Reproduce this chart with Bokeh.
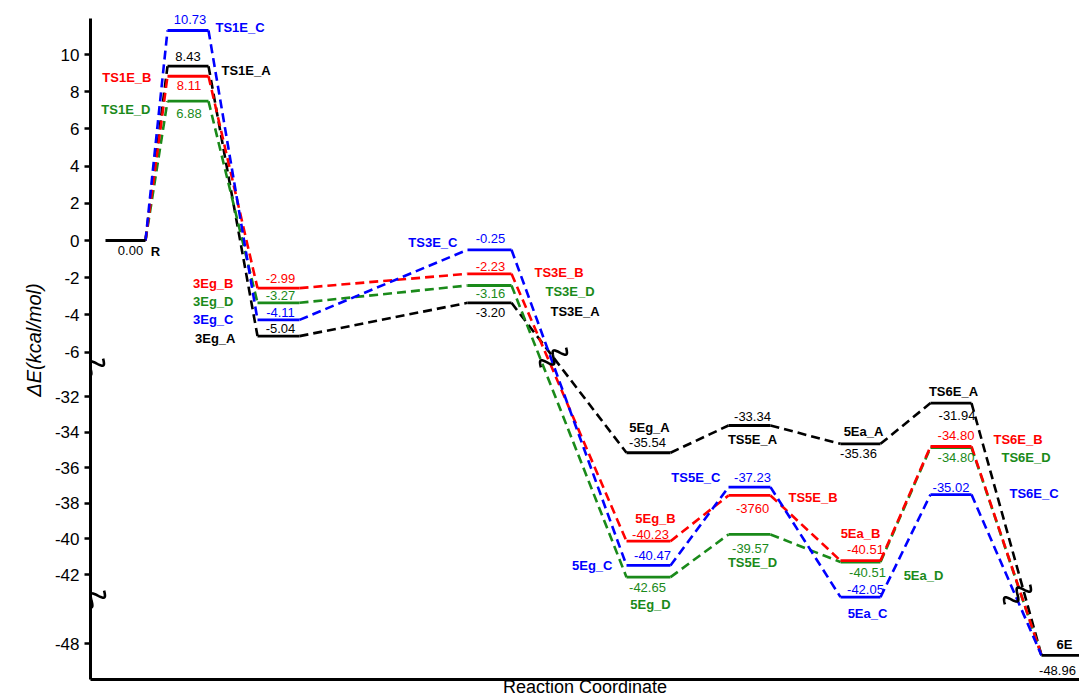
import math
import numpy as np
from bokeh.plotting import figure
from bokeh.models import (Range1d, FixedTicker, CustomJSTickFormatter,
                          ColumnDataSource, LabelSet)
from bokeh.core.properties import value
from bokeh.embed import file_html
from bokeh.resources import INLINE

# ---------------- data ----------------
states = ["R", "TS1E", "3Eg", "TS3E", "5Eg", "TS5E", "5Ea", "TS6E", "6E"]

# level heights as drawn in the picture (kcal/mol, on the broken axis)
energy_A = [0.00, 9.37, -5.14, -3.35, -35.16, -33.63, -34.66, -32.37, -48.67]
energy_B = [0.00, 8.83, -2.56, -1.79, -40.13, -37.56, -41.22, -34.81, -48.67]
energy_C = [0.00, 11.29, -4.27, -0.50, -41.49, -37.09, -43.27, -37.51, -48.67]
energy_D = [0.00, 7.49, -3.35, -2.42, -42.15, -39.75, -41.30, -34.87, -48.67]

# value annotations as printed
value_text_A = ["0.00", "8.43", "-5.04", "-3.20", "-35.54", "-33.34", "-35.36", "-31.94", "-48.96"]
value_text_B = ["", "8.11", "-2.99", "-2.23", "-40.23", "-3760", "-40.51", "-34.80", ""]
value_text_C = ["", "10.73", "-4.11", "-0.25", "-40.47", "-37.23", "-42.05", "-35.02", ""]
value_text_D = ["", "6.88", "-3.27", "-3.16", "-42.65", "-39.57", "-40.51", "-34.80", ""]

name_text_A = ["R", "TS1E_A", "3Eg_A", "TS3E_A", "5Eg_A", "TS5E_A", "5Ea_A", "TS6E_A", "6E"]
name_text_B = ["", "TS1E_B", "3Eg_B", "TS3E_B", "5Eg_B", "TS5E_B", "5Ea_B", "TS6E_B", ""]
name_text_C = ["", "TS1E_C", "3Eg_C", "TS3E_C", "5Eg_C", "TS5E_C", "5Ea_C", "TS6E_C", ""]
name_text_D = ["", "TS1E_D", "3Eg_D", "TS3E_D", "5Eg_D", "TS5E_D", "5Ea_D", "TS6E_D", ""]

tick_values = [10, 8, 6, 4, 2, 0, -2, -4, -6, -32, -34, -36, -38, -40, -42, -48]

# ---------------- layout ----------------
FONT = "Liberation Sans"
W, H = 1079, 700
BORDER_L, BORDER_B = 90, 21
X0, X1 = BORDER_L, W
Y_TOP, Y_BOT = 240, 240 - (H - BORDER_B)
AXIS_TOP = 222

# broken axis: (lowest value of segment, value anchor, display anchor, scale)
SEGMENTS = [(-20.0, 0.0, 0.0, 18.6), (-45.5, -32.0, -156.0, 17.8), (-80.0, -48.0, -403.0, 17.8)]


def ypos(v):
    for lo, va, da, s in SEGMENTS:
        if v >= lo:
            return da + (v - va) * s
    return SEGMENTS[-1][2] + (v - SEGMENTS[-1][1]) * SEGMENTS[-1][3]


xc = [125, 187.5, 278, 489, 648, 749, 860, 950.5, 1060]
half = [20, 20.5, 21, 22, 22, 21, 20, 20.5, 19]

VAL_OFF = {
    "A": [(5, 10), (0, -10), (2, -8), (1, 10), (-1, -10), (3, -9), (-2, 10), (6, 12), (-3, 15)],
    "B": [None, (1, 9), (2, -10), (1, -7), (2, -7), (3, 13), (5, -11), (5, -11), None],
    "C": [None, (2, -11), (2, -7), (1, -11), (4, -10), (3, -10), (5, -8), (0, -7), None],
    "D": [None, (1, 12), (2, -7), (1, 8), (-1, 10), (1, 14), (7, 10), (5, 10), None],
}
NAME_OFF = {
    "A": [(30, 11, "center"), (33.5, 4, "left"), (-43, 2, "right"), (61, 9, "left"),
          (1, -25, "center"), (3, 14, "center"), (3, -12, "center"), (2.5, -12, "center"), (4, -11, "center")],
    "B": [None, (-36.5, 1, "right"), (-45, -5, "right"), (45, -1, "left"), (7, -23, "center"),
          (39, 2, "left"), (0, -27, "center"), (42.5, -7, "left"), None],
    "C": [None, (27.5, -3, "left"), (-45, 0, "right"), (-32, -7, "right"), (-36, 0, "right"),
          (-29, -10, "right"), (7, 16, "center"), (58.5, -1, "left"), None],
    "D": [None, (-37.5, 8, "right"), (-45, -1, "right"), (56, 6, "left"), (2, 27, "center"),
          (3, 28, "center"), (63, 13, "center"), (50.5, 10, "left"), None],
}

series = [
    ("A", "#000000", energy_A, value_text_A, name_text_A),
    ("D", "#1a8a1a", energy_D, value_text_D, name_text_D),
    ("B", "#ff0000", energy_B, value_text_B, name_text_B),
    ("C", "#0000ff", energy_C, value_text_C, name_text_C),
]

p = figure(width=W, height=H, x_range=Range1d(X0, X1), y_range=Range1d(Y_BOT, Y_TOP),
           output_backend="svg", toolbar_location=None,
           min_border_left=BORDER_L, min_border_right=0, min_border_top=0,
           min_border_bottom=BORDER_B)
p.grid.visible = False
p.outline_line_color = None
p.background_fill_color = "white"
p.border_fill_color = "white"

# ---------------- lines ----------------
for key, col, E, vt, nt in series:
    ys = [ypos(e) for e in E]
    p.segment(x0=[xc[i] + half[i] for i in range(len(E) - 1)], y0=ys[:-1],
              x1=[xc[i + 1] - half[i + 1] for i in range(len(E) - 1)], y1=ys[1:],
              line_color=col, line_width=2.6, line_dash="9 5")
for key, col, E, vt, nt in series:
    ys = [ypos(e) for e in E]
    idx = [i for i in range(len(E)) if (key == "A" or 0 < i < len(E) - 1)]
    p.segment(x0=[xc[i] - half[i] for i in idx], y0=[ys[i] for i in idx],
              x1=[xc[i] + half[i] for i in idx], y1=[ys[i] for i in idx],
              line_color=col, line_width=2.8)

# ---------------- labels ----------------
groups = {}


def add_label(text, x, y, color, bold, align):
    d = groups.setdefault((bold, align), dict(x=[], y=[], text=[], tcolor=[]))
    d["x"].append(x)
    d["y"].append(y)
    d["text"].append(text)
    d["tcolor"].append(color)


for key, col, E, vt, nt in series:
    for i in range(len(states)):
        y = ypos(E[i])
        if vt[i]:
            dx, dy = VAL_OFF[key][i]
            add_label(vt[i], xc[i] + dx, y - dy, col, False, "center")
        if nt[i]:
            dx, dy, al = NAME_OFF[key][i]
            add_label(nt[i], xc[i] + dx, y - dy, col, True, al)

for (bold, align), d in groups.items():
    p.add_layout(LabelSet(x="x", y="y", text="text", source=ColumnDataSource(d),
                          text_color="tcolor", text_align=align, text_baseline="middle",
                          text_font=value(FONT), text_font_size="13px",
                          text_font_style="bold" if bold else "normal"))

# ---------------- break marks ----------------


def squiggle(cx, cy, length=32, amp=5.5, periods=2.0, ang=38):
    t = np.linspace(-0.5, 0.5, 90)
    a = math.radians(ang)
    along = t * length
    perp = amp * np.sin(2 * math.pi * periods * (t + 0.5))
    xs = cx + along * math.cos(a) - perp * math.sin(a)
    ys = cy + along * math.sin(a) + perp * math.cos(a)
    return xs, ys


break_marks = [(90, -128), (91, -360), (553, -117), (1017, -354)]
for cx, cy in break_marks:
    xs, ys = squiggle(cx, cy)
    p.line(xs, ys, line_color="black", line_width=2.6)

# ---------------- axes ----------------
tick_pos = [round(ypos(v), 3) for v in tick_values]
tick_txt = [str(v) for v in tick_values]
yaxis = p.yaxis[0]
yaxis.bounds = (Y_BOT, AXIS_TOP)
yaxis.ticker = FixedTicker(ticks=tick_pos, minor_ticks=[])
yaxis.formatter = CustomJSTickFormatter(args=dict(pos=tick_pos, txt=tick_txt), code="""
for (let i = 0; i < pos.length; i++) { if (Math.abs(pos[i] - tick) < 1e-3) return txt[i]; }
return "";
""")
yaxis.axis_line_width = 3
yaxis.major_tick_line_width = 2.5
yaxis.major_tick_out = 6
yaxis.major_tick_in = 0
yaxis.minor_tick_out = 0
yaxis.major_label_standoff = 5
yaxis.major_label_text_font = FONT
yaxis.major_label_text_font_size = "17px"
yaxis.major_label_text_color = "black"
yaxis.axis_label = "ΔE(kcal/mol)"
yaxis.axis_label_text_font = FONT
yaxis.axis_label_text_font_size = "20px"
yaxis.axis_label_text_font_style = "italic"
yaxis.axis_label_text_color = "black"
yaxis.axis_label_standoff = 7

xaxis = p.xaxis[0]
xaxis.bounds = (X0, X1)
xaxis.ticker = FixedTicker(ticks=[], minor_ticks=[])
xaxis.axis_line_width = 3
xaxis.major_tick_out = 0
xaxis.major_tick_in = 0
xaxis.minor_tick_out = 0
xaxis.major_label_standoff = 0
xaxis.axis_label = "Reaction Coordinate"
xaxis.axis_label_text_font = FONT
xaxis.axis_label_text_font_size = "18px"
xaxis.axis_label_text_font_style = "normal"
xaxis.axis_label_text_color = "black"
xaxis.axis_label_standoff = -3

open("out.html", "w").write(file_html(p, INLINE))
